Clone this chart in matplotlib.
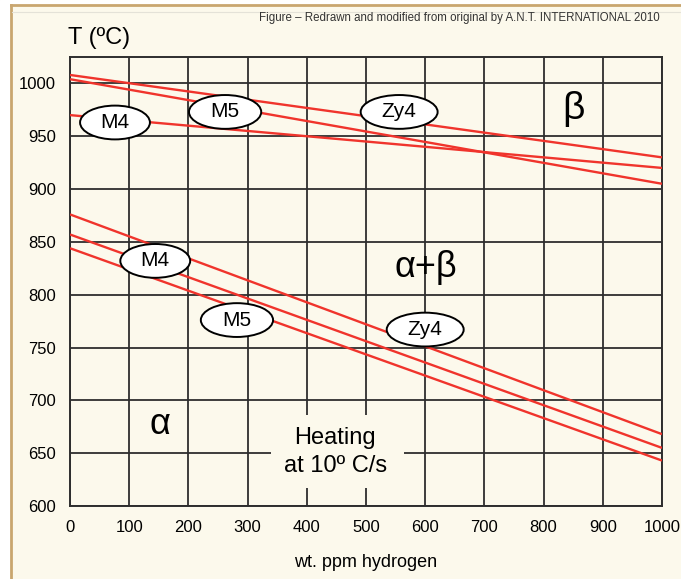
import matplotlib.pyplot as plt
from matplotlib.patches import Rectangle, Ellipse
from matplotlib.lines import Line2D

plt.rcParams['font.family'] = ['Liberation Sans Narrow', 'Liberation Sans', 'DejaVu Sans']

# hydrogen content (wt. ppm) at the two ends of each transus line
hydrogen = [0, 1000]

# alpha+beta -> beta transus (upper group)
beta_zy4 = [1008, 930]
beta_m5 = [1004, 905]
beta_m4 = [970, 920]

# alpha -> alpha+beta transus (lower group)
alpha_zy4 = [876, 668]
alpha_m5 = [857, 655]
alpha_m4 = [844, 643]

x_ticks = [0, 100, 200, 300, 400, 500, 600, 700, 800, 900, 1000]
y_ticks = [600, 650, 700, 750, 800, 850, 900, 950, 1000]

cream = '#fcf9ec'
red = '#f0342c'
grid_col = '#2e2e2e'

fig = plt.figure(figsize=(6.81, 5.79), dpi=100, facecolor=cream)

# tan frame of the page
fig.patches.append(Rectangle((0, 0), 10 / 681, 1, transform=fig.transFigure, color='white', zorder=0))
fig.patches.append(Rectangle((0, 1 - 4 / 579), 1, 4 / 579, transform=fig.transFigure, color='white', zorder=0))
fig.lines.append(Line2D([11 / 681, 11 / 681], [0, 1 - 5 / 579], transform=fig.transFigure, color='#c9a66f', lw=2))
fig.lines.append(Line2D([11 / 681, 1], [1 - 5 / 579, 1 - 5 / 579], transform=fig.transFigure, color='#c9a66f', lw=2))
fig.lines.append(Line2D([12 / 681, 1], [1 - 12 / 579, 1 - 12 / 579], transform=fig.transFigure, color='#e4e2d8', lw=0.8))

ax = fig.add_axes([70 / 681, 73 / 579, 592 / 681, 449 / 579])
ax.set_facecolor(cream)
ax.set_xlim(0, 1000)
ax.set_ylim(600, 1025)
ax.set_xticks(x_ticks)
ax.set_yticks(y_ticks)
ax.tick_params(length=0, labelsize=12, pad=10)
ax.grid(True, color=grid_col, lw=1.3)
ax.set_axisbelow(True)
for s in ax.spines.values():
    s.set_color(grid_col)
    s.set_linewidth(1.4)

for ys in [beta_zy4, beta_m5, beta_m4, alpha_zy4, alpha_m5, alpha_m4]:
    ax.plot(hydrogen, ys, color=red, lw=1.7, zorder=3, solid_capstyle='butt')

# blank patch behind the heating note
ax.add_patch(Rectangle((340, 617), 224, 69, facecolor=cream, edgecolor='none', zorder=2.5))
ax.text(448, 651, 'Heating\nat 10º C/s', ha='center', va='center', fontsize=17,
        linespacing=1.35, zorder=4)

# alloy tags: text, centre, ellipse width (ppm)
labels = [('M4', 76, 963, 118), ('M5', 262, 973, 122), ('Zy4', 556, 973, 130),
          ('M4', 144, 832, 118), ('M5', 282, 776, 122), ('Zy4', 600, 767, 130)]
for txt, lx, ly, w in labels:
    ax.add_patch(Ellipse((lx, ly), w, 32, facecolor='white', edgecolor='black', lw=1.4, zorder=5))
    ax.text(lx, ly, txt, ha='center', va='center', fontsize=15, zorder=6)

ax.text(850, 976, 'β', ha='center', va='center', fontsize=28, zorder=4)
ax.text(601, 826, 'α+β', ha='center', va='center', fontsize=26, zorder=4)
ax.text(152, 677, 'α', ha='center', va='center', fontsize=26, zorder=4)

ax.set_xlabel('wt. ppm hydrogen', fontsize=13, labelpad=14)
fig.text(68 / 681, 1 - 38 / 579, 'T (ºC)', fontsize=17, ha='left', va='center')
fig.text(660 / 681, 1 - 18 / 579,
         'Figure – Redrawn and modified from original by A.N.T. INTERNATIONAL 2010',
         fontsize=8.3, ha='right', va='center', color='#333333')

fig.savefig('out.png', dpi=100, facecolor=cream)
